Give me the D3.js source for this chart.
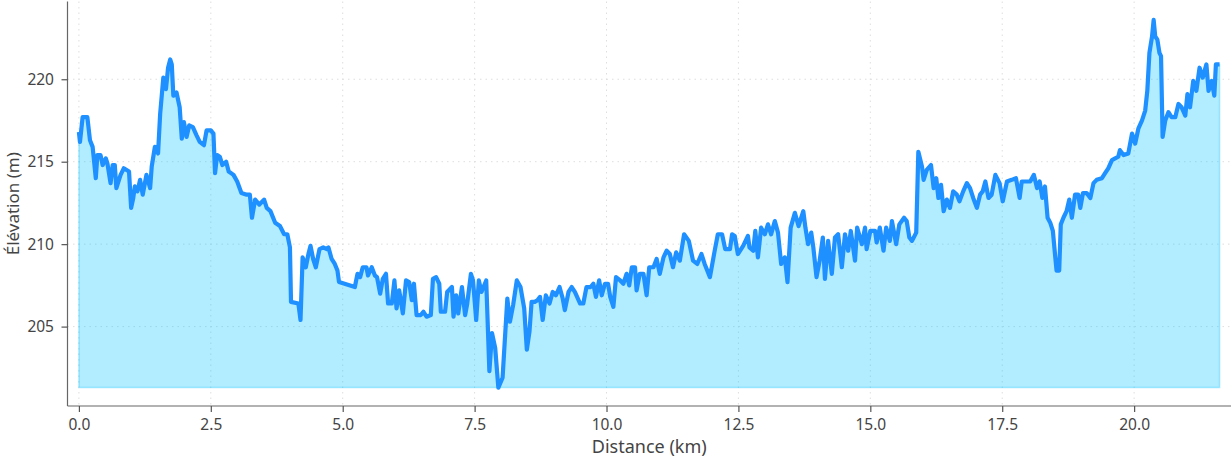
<!DOCTYPE html>
<html>
<head>
<meta charset="utf-8">
<script src="https://cdn.jsdelivr.net/npm/d3@7"></script>
<style>
  body { margin: 0; background: #fff; }
  text { font-family: "Noto Sans", sans-serif; }
</style>
</head>
<body>
<div id="chart"></div>
<script>
// distance along the track (km)
var distanceKm = [
  0.00, 0.02, 0.07, 0.16, 0.21, 0.26, 0.32, 0.35, 0.41, 0.45, 0.51, 0.54, 0.60, 0.64, 0.68, 0.71, 0.79, 0.85, 0.95, 0.99,
  1.03, 1.06, 1.11, 1.16, 1.21, 1.28, 1.35, 1.38, 1.44, 1.50, 1.54, 1.60, 1.65, 1.69, 1.73, 1.76, 1.79, 1.85, 1.91, 1.95,
  1.99, 2.04, 2.09, 2.16, 2.23, 2.29, 2.37, 2.42, 2.50, 2.55, 2.58, 2.62, 2.67, 2.72, 2.79, 2.84, 2.93, 3.00, 3.08, 3.18,
  3.24, 3.28, 3.34, 3.42, 3.51, 3.56, 3.63, 3.72, 3.81, 3.89, 3.95, 4.00, 4.02, 4.16, 4.20, 4.24, 4.30, 4.35, 4.39, 4.44,
  4.49, 4.56, 4.63, 4.70, 4.73, 4.79, 4.85, 4.90, 4.93, 5.23, 5.28, 5.33, 5.38, 5.45, 5.48, 5.55, 5.61, 5.65, 5.71, 5.76,
  5.82, 5.86, 5.93, 5.98, 6.02, 6.07, 6.14, 6.20, 6.26, 6.31, 6.35, 6.40, 6.48, 6.53, 6.59, 6.67, 6.71, 6.77, 6.83, 6.86,
  6.94, 6.98, 7.07, 7.10, 7.15, 7.19, 7.26, 7.32, 7.36, 7.43, 7.47, 7.53, 7.58, 7.63, 7.72, 7.78, 7.83, 7.89, 7.95, 8.03,
  8.12, 8.17, 8.23, 8.30, 8.37, 8.44, 8.49, 8.54, 8.58, 8.64, 8.69, 8.74, 8.79, 8.85, 8.92, 8.98, 9.04, 9.11, 9.17, 9.21,
  9.28, 9.34, 9.40, 9.50, 9.56, 9.62, 9.70, 9.75, 9.80, 9.86, 9.91, 9.97, 10.03, 10.07, 10.13, 10.18, 10.26, 10.32, 10.38, 10.43,
  10.48, 10.54, 10.57, 10.63, 10.70, 10.76, 10.81, 10.89, 10.95, 11.01, 11.08, 11.14, 11.20, 11.26, 11.32, 11.39, 11.47, 11.56, 11.64, 11.72,
  11.80, 11.86, 11.96, 12.05, 12.11, 12.19, 12.25, 12.34, 12.38, 12.43, 12.49, 12.59, 12.68, 12.71, 12.78, 12.82, 12.87, 12.93, 13.00, 13.06,
  13.12, 13.19, 13.25, 13.31, 13.38, 13.43, 13.49, 13.57, 13.64, 13.73, 13.77, 13.82, 13.88, 13.92, 13.98, 14.04, 14.10, 14.14, 14.20, 14.27,
  14.33, 14.39, 14.46, 14.52, 14.58, 14.63, 14.71, 14.75, 14.84, 14.90, 14.93, 15.00, 15.09, 15.12, 15.18, 15.25, 15.30, 15.37, 15.41, 15.49,
  15.55, 15.64, 15.69, 15.74, 15.79, 15.87, 15.91, 15.98, 16.01, 16.07, 16.15, 16.20, 16.25, 16.29, 16.34, 16.39, 16.45, 16.51, 16.57, 16.64,
  16.69, 16.76, 16.83, 16.89, 16.95, 17.02, 17.08, 17.13, 17.18, 17.24, 17.30, 17.37, 17.45, 17.51, 17.59, 17.68, 17.76, 17.83, 17.87, 17.97,
  18.03, 18.10, 18.16, 18.21, 18.26, 18.31, 18.36, 18.41, 18.46, 18.50, 18.53, 18.58, 18.61, 18.66, 18.72, 18.77, 18.82, 18.88, 18.94, 18.98,
  19.03, 19.10, 19.17, 19.23, 19.29, 19.39, 19.45, 19.51, 19.58, 19.64, 19.70, 19.73, 19.80, 19.89, 19.96, 20.02, 20.08, 20.15, 20.21, 20.25,
  20.29, 20.34, 20.37, 20.40, 20.44, 20.48, 20.51, 20.54, 20.59, 20.65, 20.71, 20.78, 20.84, 20.90, 20.97, 21.01, 21.06, 21.12, 21.18, 21.24,
  21.30, 21.37, 21.41, 21.47, 21.52, 21.55, 21.62
];

// elevation at each point (m)
var elevationM = [
  216.8, 216.2, 217.7, 217.7, 216.3, 215.9, 214.0, 215.4, 215.4, 214.8, 215.2, 214.9, 213.7, 214.8, 214.8, 213.4, 214.2, 214.6, 214.4, 212.2,
  212.8, 213.5, 213.2, 213.9, 213.0, 214.2, 213.4, 214.7, 215.9, 215.5, 217.9, 220.1, 219.4, 220.7, 221.2, 220.9, 219.0, 219.2, 218.3, 216.4,
  217.4, 216.5, 217.2, 217.1, 216.6, 216.2, 216.0, 216.9, 216.9, 216.7, 214.3, 215.4, 215.3, 214.8, 215.0, 214.4, 214.2, 213.8, 213.1, 213.0,
  213.0, 211.6, 212.7, 212.4, 212.7, 212.2, 212.0, 211.3, 211.1, 210.6, 210.6, 209.8, 206.5, 206.4, 205.4, 209.2, 208.6, 209.4, 209.9, 209.1,
  208.6, 209.7, 209.8, 209.7, 209.8, 209.1, 208.8, 208.4, 207.7, 207.4, 208.2, 208.0, 208.6, 208.6, 208.1, 208.6, 208.1, 208.0, 207.0, 207.9,
  208.2, 206.4, 206.4, 207.8, 206.1, 207.2, 205.8, 207.8, 207.7, 206.6, 207.6, 205.7, 205.7, 205.9, 205.6, 205.7, 207.9, 208.0, 207.6, 205.9,
  205.9, 207.1, 207.4, 205.6, 206.9, 205.8, 207.4, 205.7, 206.4, 208.2, 207.8, 205.4, 207.8, 207.1, 207.8, 202.3, 204.6, 203.7, 201.3, 201.9,
  206.7, 205.3, 206.3, 207.8, 207.4, 206.1, 203.6, 204.7, 206.5, 206.5, 206.6, 206.8, 205.4, 206.9, 206.4, 207.1, 206.9, 207.4, 206.7, 206.0,
  207.1, 207.4, 207.1, 206.4, 206.4, 207.4, 207.4, 207.6, 206.8, 207.8, 206.9, 207.6, 207.6, 206.8, 206.2, 208.0, 207.8, 207.6, 208.2, 207.5,
  208.6, 208.6, 207.2, 208.2, 208.2, 206.9, 208.6, 208.6, 209.1, 208.2, 209.2, 209.6, 209.4, 208.6, 209.5, 209.0, 210.6, 210.2, 209.0, 208.8,
  209.4, 208.8, 208.0, 209.6, 210.6, 210.6, 209.7, 209.7, 210.6, 210.5, 209.4, 209.9, 210.5, 209.8, 209.6, 210.8, 209.2, 211.0, 210.6, 211.2,
  210.6, 211.4, 210.7, 208.8, 209.2, 207.7, 211.0, 211.9, 211.1, 212.0, 211.0, 210.0, 210.7, 209.8, 208.0, 209.0, 210.4, 207.9, 210.2, 208.2,
  210.4, 210.6, 208.6, 210.6, 209.6, 210.8, 209.0, 211.0, 210.0, 211.0, 209.7, 210.8, 210.8, 210.1, 211.0, 209.6, 211.0, 210.2, 211.4, 210.0,
  211.2, 211.6, 211.4, 210.4, 210.2, 210.7, 215.6, 214.7, 213.9, 214.5, 214.8, 213.4, 214.0, 212.8, 213.6, 212.0, 212.7, 212.2, 213.2, 213.0,
  212.6, 213.2, 213.7, 213.4, 212.8, 212.2, 213.0, 213.2, 213.8, 212.8, 213.0, 214.2, 213.7, 212.6, 213.8, 213.9, 214.0, 212.8, 213.8, 213.8,
  213.8, 214.2, 213.4, 213.8, 212.8, 213.5, 211.6, 211.3, 210.8, 209.4, 208.4, 208.4, 211.2, 211.6, 212.0, 212.7, 211.6, 213.0, 213.0, 212.2,
  213.1, 213.1, 212.8, 213.7, 213.9, 214.0, 214.3, 214.6, 215.1, 215.2, 215.3, 215.7, 215.4, 215.5, 216.7, 216.1, 217.0, 217.5, 218.1, 219.3,
  221.6, 222.6, 223.6, 222.6, 222.4, 221.6, 221.4, 216.5, 217.5, 218.0, 217.7, 217.7, 218.5, 218.3, 217.8, 219.1, 218.3, 219.9, 219.3, 220.7,
  220.1, 220.9, 219.3, 219.9, 219.0, 220.9, 220.9
];

var xTicks = [0, 2.5, 5, 7.5, 10, 12.5, 15, 17.5, 20];
var yTicks = [205, 210, 215, 220];

var data = distanceKm.map((d, i) => ({ km: d, ele: elevationM[i] }));

var margin = {top: 1.5, right: 1, bottom: 54, left: 67.5},
    width = 1232 - margin.left - margin.right,
    height = 460 - margin.top - margin.bottom;

var svg = d3.select("#chart")
  .append("svg")
    .attr("width", 1232)
    .attr("height", 460)
  .append("g")
    .attr("transform", "translate(" + margin.left + "," + margin.top + ")");

// matplotlib-like padding: 1% on x, 5% on y
var xMin = d3.min(distanceKm), xMax = d3.max(distanceKm);
var yMin = d3.min(elevationM), yMax = d3.max(elevationM);
var xPad = (xMax - xMin) * 0.01, yPad = (yMax - yMin) * 0.05;

var x = d3.scaleLinear()
  .domain([xMin - xPad, xMax + xPad])
  .range([0, width]);
var y = d3.scaleLinear()
  .domain([yMin - yPad, yMax + yPad])
  .range([height, 0]);

// dotted grid
svg.append("g")
  .selectAll("line.gx")
  .data(xTicks)
  .enter().append("line")
    .attr("x1", d => x(d)).attr("x2", d => x(d))
    .attr("y1", 0).attr("y2", height)
    .attr("stroke", "#dedede")
    .attr("stroke-width", 1)
    .attr("stroke-dasharray", "1.5,4");
svg.append("g")
  .selectAll("line.gy")
  .data(yTicks)
  .enter().append("line")
    .attr("x1", 0).attr("x2", width)
    .attr("y1", d => y(d)).attr("y2", d => y(d))
    .attr("stroke", "#dedede")
    .attr("stroke-width", 1)
    .attr("stroke-dasharray", "1.5,4");

// filled area down to the lowest point
var area = d3.area()
  .x(d => x(d.km))
  .y0(y(yMin))
  .y1(d => y(d.ele));
svg.append("path")
  .datum(data)
  .attr("d", area)
  .attr("fill", "#00bfff")
  .attr("fill-opacity", 0.3)
  .attr("stroke", "#00bfff")
  .attr("stroke-opacity", 0.3)
  .attr("stroke-width", 1.5);

// elevation line
var line = d3.line()
  .x(d => x(d.km))
  .y(d => y(d.ele));
svg.append("path")
  .datum(data)
  .attr("d", line)
  .attr("fill", "none")
  .attr("stroke", "#1e90ff")
  .attr("stroke-width", 4.2)
  .attr("stroke-linejoin", "round");

// axes
var xAxis = svg.append("g")
  .attr("transform", "translate(0," + height + ")")
  .call(d3.axisBottom(x).tickValues(xTicks).tickFormat(d3.format(".1f")).tickSizeOuter(0).tickSize(6).tickPadding(6.5));
var yAxis = svg.append("g")
  .call(d3.axisLeft(y).tickValues(yTicks).tickFormat(d3.format("d")).tickSizeOuter(0).tickSize(6).tickPadding(7.5));

[xAxis, yAxis].forEach(a => {
  a.select(".domain").attr("stroke", "#666").attr("stroke-width", 1.2);
  a.selectAll(".tick line").attr("stroke", "#555").attr("stroke-width", 1.2);
  a.selectAll(".tick text").attr("fill", "#444").attr("font-size", "15.5px")
    .style("font-family", "'Noto Sans', sans-serif");
});
// left spine runs the full height
yAxis.select(".domain").attr("d", "M0," + height + "V0");
xAxis.select(".domain").attr("d", "M0,0H" + width);

// axis labels
svg.append("text")
  .attr("x", width / 2)
  .attr("y", height + 47)
  .attr("text-anchor", "middle")
  .attr("fill", "#444")
  .attr("font-size", "18px")
  .text("Distance (km)");
svg.append("text")
  .attr("transform", "rotate(-90)")
  .attr("x", -height / 2)
  .attr("y", -margin.left + 18.5)
  .attr("text-anchor", "middle")
  .attr("fill", "#444")
  .attr("font-size", "17px")
  .text("Élévation (m)");
</script>
</body>
</html>
